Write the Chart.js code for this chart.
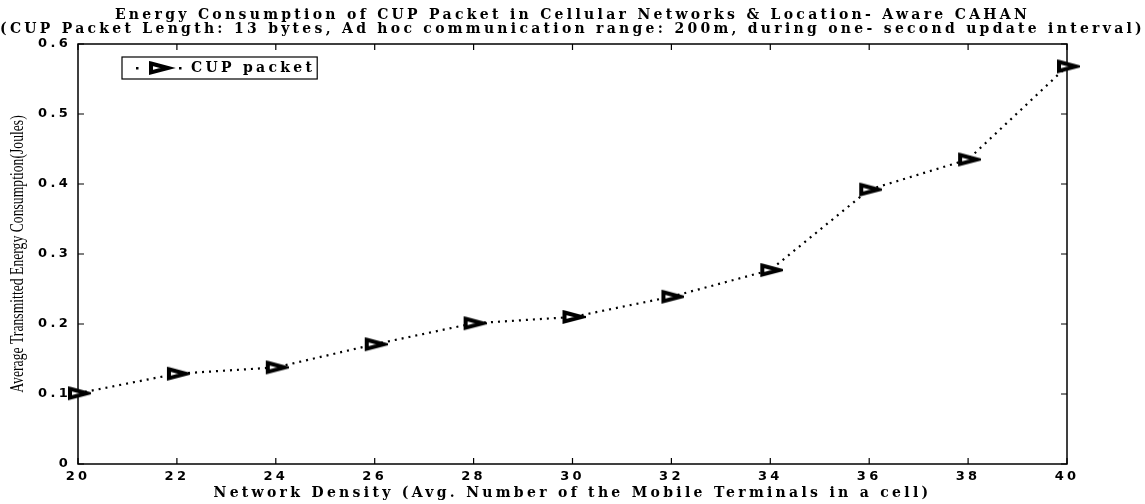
<!DOCTYPE html>
<html>
<head>
<meta charset="utf-8">
<title>CUP packet energy</title>
<script src="https://cdn.jsdelivr.net/npm/chart.js@4.4.0/dist/chart.umd.min.js"></script>
<style>
  html, body { margin: 0; padding: 0; background: #fff; }
  #wrap { width: 1145px; height: 504px; }
</style>
</head>
<body>
<div id="wrap"><canvas id="energyChart"></canvas></div>
<script>
// network density (avg. number of mobile terminals per cell)
const densities = [20, 22, 24, 26, 28, 30, 32, 34, 36, 38, 40];
// average transmitted energy of the CUP packet, joules
const cupEnergy = [0.101, 0.129, 0.138, 0.171, 0.201, 0.210, 0.239, 0.277, 0.392, 0.435, 0.568];

const titleLines = [
    'Energy Consumption of CUP Packet in Cellular Networks & Location- Aware CAHAN',
    '(CUP Packet Length: 13 bytes, Ad hoc communication range: 200m, during one- second update interval)'
];
const xTitle = 'Network Density (Avg. Number of the Mobile Terminals in a cell)';
const yTitle = 'Average Transmitted Energy Consumption(Joules)';
const seriesLabel = 'CUP packet';

const serifBold = { family: '"DejaVu Serif", serif', size: 14, weight: 'bold', lineHeight: 1 };
const tickFont = { family: '"DejaVu Sans", sans-serif', size: 13, weight: 'bold', lineHeight: 1 };
const TRACKING = '3.3px';

// right-pointing triangle marker, thick black outline
function makeTriangle(g, cx, cy) {
    g.beginPath();
    g.moveTo(cx - 8, cy - 4.5);
    g.lineTo(cx + 9, cy);
    g.lineTo(cx - 8, cy + 4.5);
    g.closePath();
    g.fillStyle = '#fff';
    g.fill();
    g.lineWidth = 4;
    g.strokeStyle = '#000';
    g.stroke();
}

const marker = document.createElement('canvas');
marker.width = 26;
marker.height = 18;
makeTriangle(marker.getContext('2d'), 13, 9);

// legend sample: dotted line with the marker in the middle
const legendMarker = document.createElement('canvas');
legendMarker.width = 50;
legendMarker.height = 18;
(function () {
    const g = legendMarker.getContext('2d');
    g.fillStyle = '#000';
    g.fillRect(2, 8, 2.5, 2.5);
    g.fillRect(45, 8, 2.5, 2.5);
    makeTriangle(g, 25, 9);
})();

// box around the plot with inward ticks on all four sides
const boxTicks = {
    id: 'boxTicks',
    beforeDatasetsDraw(chart) {
        const { ctx, chartArea: a, scales: { x, y } } = chart;
        ctx.save();
        ctx.strokeStyle = '#000';
        ctx.lineWidth = 1.5;
        ctx.strokeRect(a.left, a.top, a.right - a.left, a.bottom - a.top);
        ctx.lineWidth = 1.2;
        ctx.beginPath();
        x.ticks.forEach(t => {
            const px = x.getPixelForValue(t.value);
            ctx.moveTo(px, a.bottom); ctx.lineTo(px, a.bottom - 6);
            ctx.moveTo(px, a.top); ctx.lineTo(px, a.top + 6);
        });
        y.ticks.forEach(t => {
            const py = y.getPixelForValue(t.value);
            ctx.moveTo(a.left, py); ctx.lineTo(a.left + 6, py);
            ctx.moveTo(a.right, py); ctx.lineTo(a.right - 6, py);
        });
        ctx.stroke();
        ctx.restore();
    }
};

// wide letter spacing for the bold texts, legend frame and the narrow y title
const decor = {
    id: 'decor',
    beforeLayout(chart) { chart.ctx.letterSpacing = TRACKING; },
    afterLayout(chart) {
        const lg = chart.legend;
        const a = chart.chartArea;
        const w = lg.width, h = lg.height;
        lg.left = a.left + 56;
        lg.top = a.top + 17;
        lg.right = lg.left + w;
        lg.bottom = lg.top + h;
    },
    beforeDraw(chart) { chart.ctx.letterSpacing = TRACKING; },
    afterDraw(chart) {
        const { ctx, chartArea: a, legend: lg } = chart;
        ctx.save();
        ctx.font = `bold ${serifBold.size}px ${serifBold.family}`;
        ctx.letterSpacing = TRACKING;
        const tw = ctx.measureText(seriesLabel).width;
        ctx.strokeStyle = '#000';
        ctx.lineWidth = 1.2;
        ctx.strokeRect(lg.left - 12, lg.top - 4, 50 + 7 + tw + 14, 22);

        // condensed serif label, read bottom to top
        ctx.letterSpacing = '0px';
        ctx.translate(18, (a.top + a.bottom) / 2);
        ctx.rotate(-Math.PI / 2);
        ctx.scale(0.76, 1);
        ctx.font = '18px "Liberation Serif", serif';
        ctx.fillStyle = '#000';
        ctx.textAlign = 'center';
        ctx.textBaseline = 'middle';
        ctx.fillText(yTitle, 0, 0);
        ctx.restore();
    }
};

new Chart(document.getElementById('energyChart'), {
    type: 'line',
    data: {
        datasets: [{
            label: seriesLabel,
            data: densities.map((d, i) => ({ x: d, y: cupEnergy[i] })),
            borderColor: '#000',
            borderWidth: 2.2,
            borderDash: [2, 5],
            pointStyle: marker,
            pointRadius: 6,
            pointHoverRadius: 6,
            fill: false,
            tension: 0,
            clip: false
        }]
    },
    options: {
        responsive: true,
        maintainAspectRatio: false,
        animation: false,
        events: [],
        layout: { padding: 0 },
        plugins: {
            title: {
                display: true,
                text: titleLines,
                color: '#000',
                font: serifBold,
                padding: { top: 8, bottom: 8 }
            },
            legend: {
                position: 'chartArea',
                align: 'start',
                labels: {
                    usePointStyle: true,
                    pointStyle: legendMarker,
                    pointStyleWidth: 50,
                    boxHeight: 14,
                    padding: 0,
                    color: '#000',
                    font: serifBold
                }
            },
            tooltip: { enabled: false }
        },
        scales: {
            x: {
                type: 'linear',
                min: 20,
                max: 40,
                afterFit(scale) { scale.height = 40; },
                ticks: { stepSize: 2, color: '#000', font: tickFont, padding: 6, maxRotation: 0 },
                grid: { display: false, drawTicks: false },
                border: { display: false },
                title: {
                    display: true,
                    text: xTitle,
                    color: '#000',
                    font: serifBold,
                    padding: { top: 0, bottom: 4 }
                }
            },
            y: {
                min: 0,
                max: 0.6,
                afterFit(scale) { scale.width = 78; },
                ticks: { stepSize: 0.1, color: '#000', font: tickFont, padding: 7 },
                grid: { display: false, drawTicks: false },
                border: { display: false }
            },
            // blank right margin that keeps the plot symmetric under the title
            yRight: {
                position: 'right',
                min: 0,
                max: 0.6,
                afterFit(scale) { scale.width = 78; },
                ticks: { display: false },
                grid: { display: false, drawTicks: false },
                border: { display: false }
            }
        }
    },
    plugins: [boxTicks, decor]
});
</script>
</body>
</html>
